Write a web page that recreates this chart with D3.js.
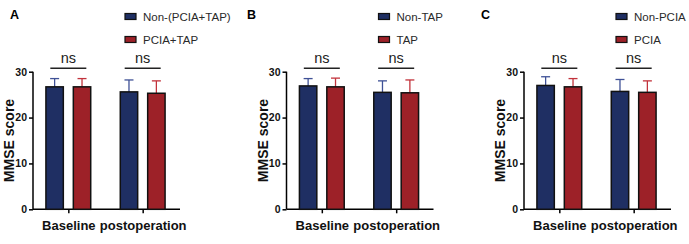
<!DOCTYPE html>
<html>
<head>
<meta charset="utf-8">
<script src="https://cdn.jsdelivr.net/npm/d3@7"></script>
<style>
  body { margin: 0; background: #fff; }
  svg { display: block; font-family: "Liberation Sans", Arial, sans-serif; }
</style>
</head>
<body>
<svg id="chart"></svg>
<script>
const width = 689;
const height = 244;

// data
const groups = ['Baseline', 'postoperation'];
const panelLetters = ['A', 'B', 'C'];
const seriesNames = [
  ['Non-(PCIA+TAP)', 'PCIA+TAP'],
  ['Non-TAP', 'TAP'],
  ['Non-PCIA', 'PCIA']
];
// mean[series][group]
const meanA = [[26.7, 25.6], [26.7, 25.3]];
const sdA = [[1.8, 2.6], [1.8, 2.7]];
const meanB = [[26.9, 25.5], [26.7, 25.4]];
const sdB = [[1.6, 2.5], [1.9, 2.8]];
const meanC = [[27.0, 25.7], [26.7, 25.5]];
const sdC = [[1.9, 2.6], [1.8, 2.5]];
const sigLabels = ['ns', 'ns'];
const yTicks = [0, 10, 20, 30];

const panels = [
  { letter: panelLetters[0], names: seriesNames[0], mean: meanA, sd: sdA },
  { letter: panelLetters[1], names: seriesNames[1], mean: meanB, sd: sdB },
  { letter: panelLetters[2], names: seriesNames[2], mean: meanC, sd: sdC }
];

const fills = ['#1f2f63', '#9d2128'];
const errColors = ['#3f5196', '#c2323b'];
const offsets = [0, 253.5, 491];
const letterX = [10, 247, 481];

const svg = d3.select('#chart')
  .attr('width', width)
  .attr('height', height);

const y = d3.scaleLinear().domain([0, 30]).range([209.3, 71.7]);

panels.forEach(function(p, i) {
  const ox = offsets[i];
  const g = svg.append('g').attr('transform', 'translate(' + ox + ',0)');

  const x = d3.scalePoint().domain(groups).range([33, 178]).padding(0.475);
  const xs = d3.scaleBand().domain([0, 1]).range([-22.4, 22.4]).paddingInner(0.365);

  // panel letter
  svg.append('text')
    .attr('x', letterX[i])
    .attr('y', 18.5)
    .attr('font-size', 12.5)
    .attr('font-weight', 'bold')
    .text(p.letter);

  // legend
  p.names.forEach(function(name, s) {
    const ly = 16.5 + s * 23;
    g.append('rect')
      .attr('x', 125)
      .attr('y', ly - 3)
      .attr('width', 11)
      .attr('height', 6)
      .attr('fill', fills[s])
      .attr('stroke', '#111')
      .attr('stroke-width', 1.2);
    g.append('text')
      .attr('x', 143)
      .attr('y', ly + 4)
      .attr('font-size', 11.5)
      .attr('fill', '#2a2a2a')
      .text(name);
  });

  // y axis
  const yAxis = d3.axisLeft(y).tickValues(yTicks).tickSize(4).tickPadding(2);
  const ya = g.append('g').attr('transform', 'translate(33,0)').call(yAxis);
  ya.select('.domain').attr('d', 'M0,' + y(0) + 'V' + y(30)).attr('stroke-width', 1.5);
  ya.selectAll('.tick line').attr('stroke-width', 1.5);
  ya.selectAll('text').attr('font-size', 10.5).attr('font-weight', 'bold').attr('fill', '#111')
    .attr('font-family', '"Liberation Sans", Arial, sans-serif');

  // x axis
  const xAxis = d3.axisBottom(x).tickSize(4).tickPadding(4);
  const xa = g.append('g').attr('transform', 'translate(0,' + y(0) + ')').call(xAxis);
  xa.select('.domain').attr('d', 'M33,0H180').attr('stroke-width', 1.5);
  xa.selectAll('.tick line').attr('stroke-width', 1.5);
  xa.selectAll('text').attr('font-size', 13).attr('font-weight', 'bold').attr('fill', '#111')
    .attr('font-family', '"Liberation Sans", Arial, sans-serif')
    .attr('dy', '0.95em');

  // y label
  g.append('text')
    .attr('transform', 'translate(14,' + ((y(0) + y(30)) / 2 + 0) + ') rotate(-90)')
    .attr('text-anchor', 'middle')
    .attr('font-size', 14)
    .attr('font-weight', 'bold')
    .attr('fill', '#111')
    .text('MMSE score');

  // bars and error bars
  [0, 1].forEach(function(s) {
    groups.forEach(function(gr, gi) {
      const m = p.mean[s][gi];
      const e = m + p.sd[s][gi];
      const bx = x(gr) + xs(s);
      const cx = bx + xs.bandwidth() / 2;
      g.append('line')
        .attr('x1', cx).attr('x2', cx)
        .attr('y1', y(m)).attr('y2', y(e))
        .attr('stroke', errColors[s]).attr('stroke-width', 1.3);
      g.append('line')
        .attr('x1', cx - 4.5).attr('x2', cx + 4.5)
        .attr('y1', y(e)).attr('y2', y(e))
        .attr('stroke', errColors[s]).attr('stroke-width', 1.3);
      g.append('rect')
        .attr('x', bx)
        .attr('y', y(m))
        .attr('width', xs.bandwidth())
        .attr('height', y(0) - y(m))
        .attr('fill', fills[s])
        .attr('stroke', '#111')
        .attr('stroke-width', 1.5);
    });
  });

  // significance brackets
  groups.forEach(function(gr, gi) {
    const cx = x(gr);
    g.append('line')
      .attr('x1', cx - 18).attr('x2', cx + 18)
      .attr('y1', 68.3).attr('y2', 68.3)
      .attr('stroke', '#222').attr('stroke-width', 1.5);
    g.append('text')
      .attr('x', cx)
      .attr('y', 62.5)
      .attr('text-anchor', 'middle')
      .attr('font-size', 14.5)
      .attr('fill', '#222')
      .text(sigLabels[gi]);
  });
});
</script>
</body>
</html>
